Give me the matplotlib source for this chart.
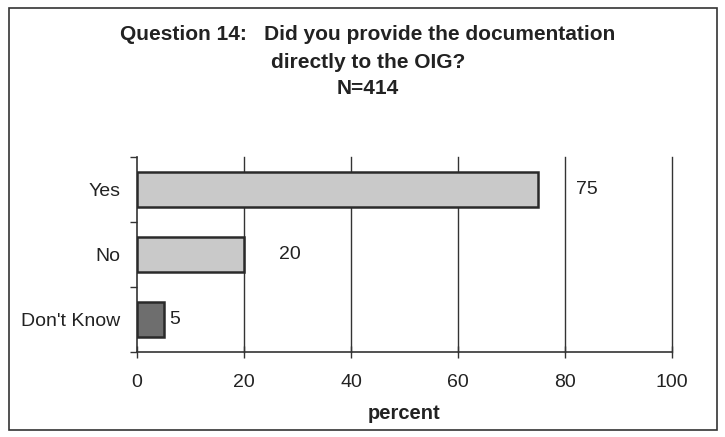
import matplotlib
matplotlib.use("Agg")
import matplotlib.pyplot as plt
from matplotlib.patches import Rectangle

categories = ["Yes", "No", "Don't Know"]
values = [75, 20, 5]
xticks = [0, 20, 40, 60, 80, 100]
title_lines = ["Question 14:   Did you provide the documentation", "directly to the OIG?", "N=414"]
xlabel = "percent"

plt.rcParams['font.family'] = ['Liberation Sans', 'DejaVu Sans']

fig = plt.figure(figsize=(7.25, 4.37), dpi=100)
ax = fig.add_axes([137/725, 1-352/437, (672-137)/725, (352-157)/437])

face = ["#c9c9c9", "#c9c9c9", "#6e6e6e"]
ypos = list(range(len(categories)))
ax.barh(ypos, values, height=0.53, color=face, edgecolor="#2a2a2a", linewidth=1.8, zorder=3)

label_offsets = [27, 25, 4]
for y, v, off in zip(ypos, values, label_offsets):
    ax.annotate(str(v), (v, y), xytext=(off, 0), textcoords="offset points",
                va="center", ha="left", fontsize=14, color="#222222")

ax.set_ylim(len(categories)-0.5, -0.5)
ax.set_xlim(0, 100)
ax.set_xticks(xticks)
ax.set_xticklabels([str(t) for t in xticks], fontsize=14, color="#222222")
ax.set_yticks(ypos)
ax.set_yticklabels(categories, fontsize=14, color="#222222")
ax.tick_params(axis='y', length=0, pad=12)
ax.set_yticks([-0.5, 0.5, 1.5, 2.5], minor=True)
ax.tick_params(axis='y', which='minor', length=5, direction='out', width=1, color="#333333")
ax.tick_params(axis='x', length=8, direction='inout', width=1, color="#333333", pad=12)

for t in xticks[1:]:
    ax.axvline(t, color="#333333", linewidth=1.0, zorder=0, clip_on=False)
for s in ["top", "right"]:
    ax.spines[s].set_visible(False)
ax.spines["left"].set_color("#333333")
ax.spines["bottom"].set_color("#333333")
ax.spines["left"].set_linewidth(1.2)
ax.spines["bottom"].set_linewidth(1.2)

ax.set_xlabel(xlabel, fontsize=14.5, fontweight="bold", color="#222222", labelpad=9)

title_y = [34, 62, 88]
for t, yy in zip(title_lines, title_y):
    fig.text(368/725, 1-yy/437, t, ha="center", va="center", fontsize=15,
             fontweight="bold", color="#222222")

fig.patches.append(Rectangle((9/725, 1-430/437), (717-9)/725, (430-8)/437,
                             transform=fig.transFigure, fill=False,
                             edgecolor="#333333", linewidth=1.2))

fig.savefig("out.png", dpi=100)
